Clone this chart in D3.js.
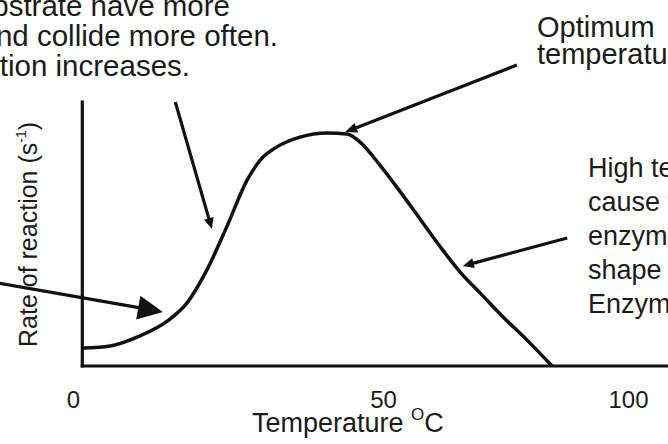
<!DOCTYPE html>
<html>
<head>
<meta charset="utf-8">
<script src="https://cdn.jsdelivr.net/npm/d3@7"></script>
<style>
	body { margin: 0; background: #fff; }
	svg { display: block; font-family: 'Liberation Sans', Arial, sans-serif; }
	text { fill: #1b1b1b; }
</style>
</head>
<body>
<div id="chart"></div>
<script>
// temperature (°C) and rate of reaction (arbitrary units)
const temps = [1.6, 6.0, 10.8, 15.2, 18.4, 21.6, 24.8, 28.1, 30.2, 32.9, 36.6, 41.0, 44.2, 46.3, 49.5, 55.5, 62.2, 66.1, 69.8, 74.5, 79.4, 84.5];
const rates = [6.8, 7.6, 11.4, 17.0, 23.9, 36.4, 52.7, 70.5, 78.0, 83.0, 86.7, 88.3, 87.9, 84.8, 76.1, 61.0, 43.9, 34.8, 27.7, 18.6, 9.8, 0];

const xTicks = [0, 50, 100];
const xAxisStart = 1.5;
const xAxisEnd = 110;
const yAxisMax = 100;

// annotation arrows, start and tip in data units
const arrowFrom = [[16.5, 100], [77.3, 114], [-13, 31.8], [87.6, 48.5]];
const arrowTo = [[22.4, 51.9], [43.9, 88.6], [14.5, 20.5], [66.3, 37.9]];
const arrowHead = [[11, 10], [12, 10], [25, 24], [11, 10]];

// callout text, one entry per block
const noteTopLeft = ['Enzyme and substrate have more', 'kinetic energy and collide more often.', 'Rate of reaction increases.'];
const noteOptimum = ['Optimum', 'temperature'];
const noteHigh = ['High temperatures', 'cause the', 'enzyme to change', 'shape', 'Enzyme denatures'];

const width = 668;
const height = 444;

const $svg = d3.select('#chart').append('svg')
	.attr('width', width)
	.attr('height', height);

// scales: the sketch's tick spacing is uneven, so x is piecewise
const scaleX = d3.scaleLinear()
	.domain(xTicks)
	.range([73, 383, 628]);
const scaleY = d3.scaleLinear()
	.domain([0, yAxisMax])
	.range([366, 102]);

// axes lines
const $axes = $svg.append('g').attr('class', 'g-axes')
	.attr('stroke', '#111')
	.attr('stroke-width', 3.2)
	.attr('stroke-linecap', 'square');

$axes.append('line')
	.attr('x1', scaleX(xAxisStart)).attr('x2', scaleX(xAxisStart))
	.attr('y1', scaleY(0)).attr('y2', scaleY(yAxisMax));

$axes.append('line')
	.attr('x1', scaleX(xAxisStart)).attr('x2', scaleX(xAxisEnd))
	.attr('y1', scaleY(0)).attr('y2', scaleY(0));

// tick labels only
const $xAxis = $svg.append('g')
	.attr('transform', `translate(0, ${scaleY(0)})`)
	.call(d3.axisBottom(scaleX).tickValues(xTicks).tickSize(0).tickPadding(25));
$xAxis.select('.domain').remove();
$xAxis.selectAll('text')
	.attr('font-size', 24)
	.attr('font-family', "'Liberation Sans', Arial, sans-serif")
	.style('fill', '#1b1b1b');

// curve
const line = d3.line()
	.x((d, i) => scaleX(temps[i]))
	.y((d, i) => scaleY(rates[i]))
	.curve(d3.curveMonotoneX);

$svg.append('path')
	.datum(temps)
	.attr('d', line)
	.attr('fill', 'none')
	.attr('stroke', '#111')
	.attr('stroke-width', 3.5)
	.attr('stroke-linejoin', 'round');

// arrows
const $arrows = $svg.append('g').attr('class', 'g-arrows');
arrowFrom.forEach((from, i) => {
	const x1 = scaleX(from[0]);
	const y1 = scaleY(from[1]);
	const x2 = scaleX(arrowTo[i][0]);
	const y2 = scaleY(arrowTo[i][1]);
	const len = Math.hypot(x2 - x1, y2 - y1);
	const ux = (x2 - x1) / len;
	const uy = (y2 - y1) / len;
	const [hl, hw] = arrowHead[i];
	const bx = x2 - ux * hl;
	const by = y2 - uy * hl;

	$arrows.append('line')
		.attr('x1', x1).attr('y1', y1)
		.attr('x2', bx + ux * 2).attr('y2', by + uy * 2)
		.attr('stroke', '#111')
		.attr('stroke-width', 3.2);

	$arrows.append('path')
		.attr('d', `M${x2},${y2}L${bx - uy * hw / 2},${by + ux * hw / 2}L${bx + uy * hw / 2},${by - ux * hw / 2}Z`)
		.attr('fill', '#111');
});

// text blocks
function addBlock(lines, x, y, step, anchor, size) {
	const $t = $svg.append('text')
		.attr('font-size', size)
		.attr('text-anchor', anchor);
	$t.selectAll('tspan')
		.data(lines)
		.enter()
		.append('tspan')
		.attr('x', (d, i) => Array.isArray(x) ? x[i] : x)
		.attr('y', (d, i) => y + i * step)
		.text(d => d);
}

addBlock(noteTopLeft, [230, 278, 190], 16, 30, 'end', 29.5);
addBlock(noteOptimum, 537, 37, 27, 'start', 29);
addBlock(noteHigh, 588, 177, 34, 'start', 27);

// x title
const $xTitle = $svg.append('text')
	.attr('x', 252)
	.attr('y', 432)
	.attr('font-size', 27);
$xTitle.append('tspan').text('Temperature ');
$xTitle.append('tspan').attr('font-size', 17).attr('dy', -12).text('O');
$xTitle.append('tspan').attr('dy', 12).text('C');

// y title
const $yTitle = $svg.append('text')
	.attr('transform', `translate(37, ${scaleY(0) - 19}) rotate(-90)`)
	.attr('font-size', 25);
$yTitle.append('tspan').text('Rate of reaction (s');
$yTitle.append('tspan').attr('font-size', 14).attr('dy', -11).text('-1');
$yTitle.append('tspan').attr('dy', 11).text(')');
</script>
</body>
</html>
